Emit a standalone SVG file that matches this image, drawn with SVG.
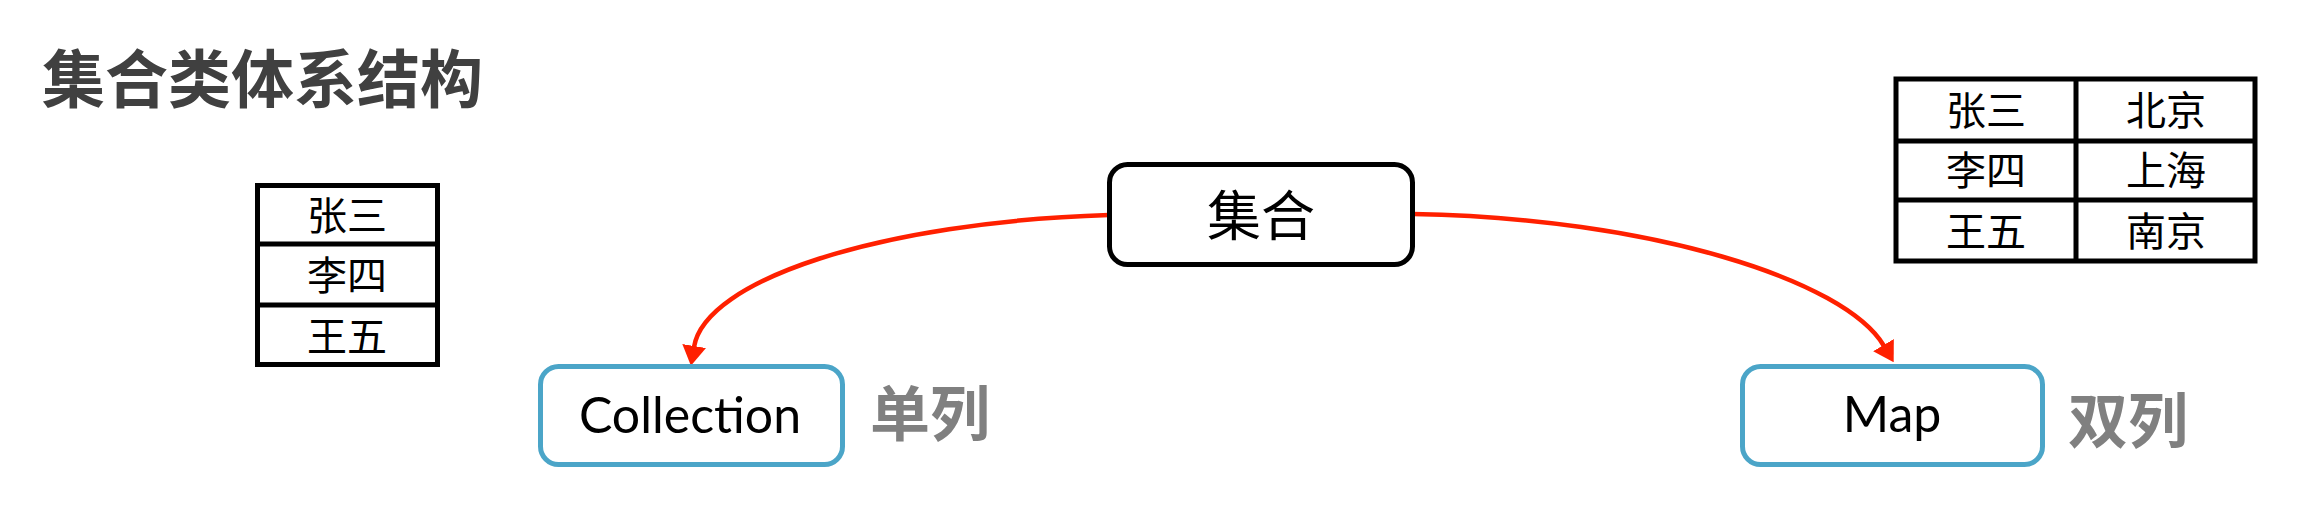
<svg xmlns="http://www.w3.org/2000/svg" width="2302" height="520" viewBox="0 0 2302 520">
  <style>
    .cjk { font-family: "Noto Sans CJK SC", "Noto Sans", sans-serif; }
    .title { font-size: 63px; font-weight: bold; fill: #404040; }
    .cell { font-size: 40px; fill: #000; text-anchor: middle; }
    .tbl { fill: #fff; stroke: #000; stroke-width: 5; }
    .tline { stroke: #000; stroke-width: 5; }
    .root { fill: #fff; stroke: #000; stroke-width: 5; }
    .child { fill: #fff; stroke: #4BA5C8; stroke-width: 5; }
    .latin { font-family: Lato, "Liberation Sans", sans-serif; font-size: 50px; fill: #000; text-anchor: middle; }
    .side { font-size: 60px; font-weight: bold; fill: #808080; }
    .edge { fill: none; stroke: #FF2000; stroke-width: 4.5; }
  </style>
  <defs>
    <marker id="arrow" markerUnits="userSpaceOnUse" viewBox="0 0 20 24" refX="1" refY="12" markerWidth="20" markerHeight="24" orient="auto">
      <path d="M0,0 L20,12 L0,24 Z" fill="#FF2000"/>
    </marker>
  </defs>
  <rect width="2302" height="520" fill="#fff"/>

  <text id="title" class="cjk title" x="42" y="102">集合类体系结构</text>

  <g id="list-table">
    <rect class="tbl" x="257.5" y="185.5" width="180" height="179"/>
    <line class="tline" x1="257.5" y1="244" x2="437.5" y2="244"/>
    <line class="tline" x1="257.5" y1="305" x2="437.5" y2="305"/>
    <text class="cjk cell" x="347" y="230">张三</text>
    <text class="cjk cell" x="347" y="290">李四</text>
    <text class="cjk cell" x="347" y="351">王五</text>
  </g>

  <g id="map-table">
    <rect class="tbl" x="1896" y="79" width="359" height="182"/>
    <line class="tline" x1="2076" y1="79" x2="2076" y2="261"/>
    <line class="tline" x1="1896" y1="141" x2="2255" y2="141"/>
    <line class="tline" x1="1896" y1="200" x2="2255" y2="200"/>
    <text class="cjk cell" x="1986" y="125">张三</text>
    <text class="cjk cell" x="2166" y="125">北京</text>
    <text class="cjk cell" x="1986" y="185">李四</text>
    <text class="cjk cell" x="2166" y="185">上海</text>
    <text class="cjk cell" x="1986" y="246">王五</text>
    <text class="cjk cell" x="2166" y="246">南京</text>
  </g>

  <g id="connectors">
    <path class="edge" d="M1109,215 C880,222 705,280 694,347" marker-end="url(#arrow)"/>
    <path class="edge" d="M1413,214 C1650,218 1845,280 1884,346" marker-end="url(#arrow)"/>
  </g>

  <g id="node-collection-root">
    <rect class="root" x="1109.5" y="164.5" width="303" height="100" rx="18"/>
    <text class="cjk" x="1261" y="236" font-size="54" text-anchor="middle" fill="#000">集合</text>
  </g>

  <g id="node-collection">
    <rect class="child" x="540.5" y="366.5" width="302" height="98" rx="18"/>
    <text class="latin" x="690" y="433">Collection</text>
  </g>

  <g id="node-map">
    <rect class="child" x="1742.5" y="366.5" width="300" height="98" rx="18"/>
    <text class="latin" x="1892" y="432">Map</text>
  </g>

  <text id="label-single" class="cjk side" x="870" y="436">单列</text>
  <text id="label-double" class="cjk side" x="2068" y="443">双列</text>
</svg>
